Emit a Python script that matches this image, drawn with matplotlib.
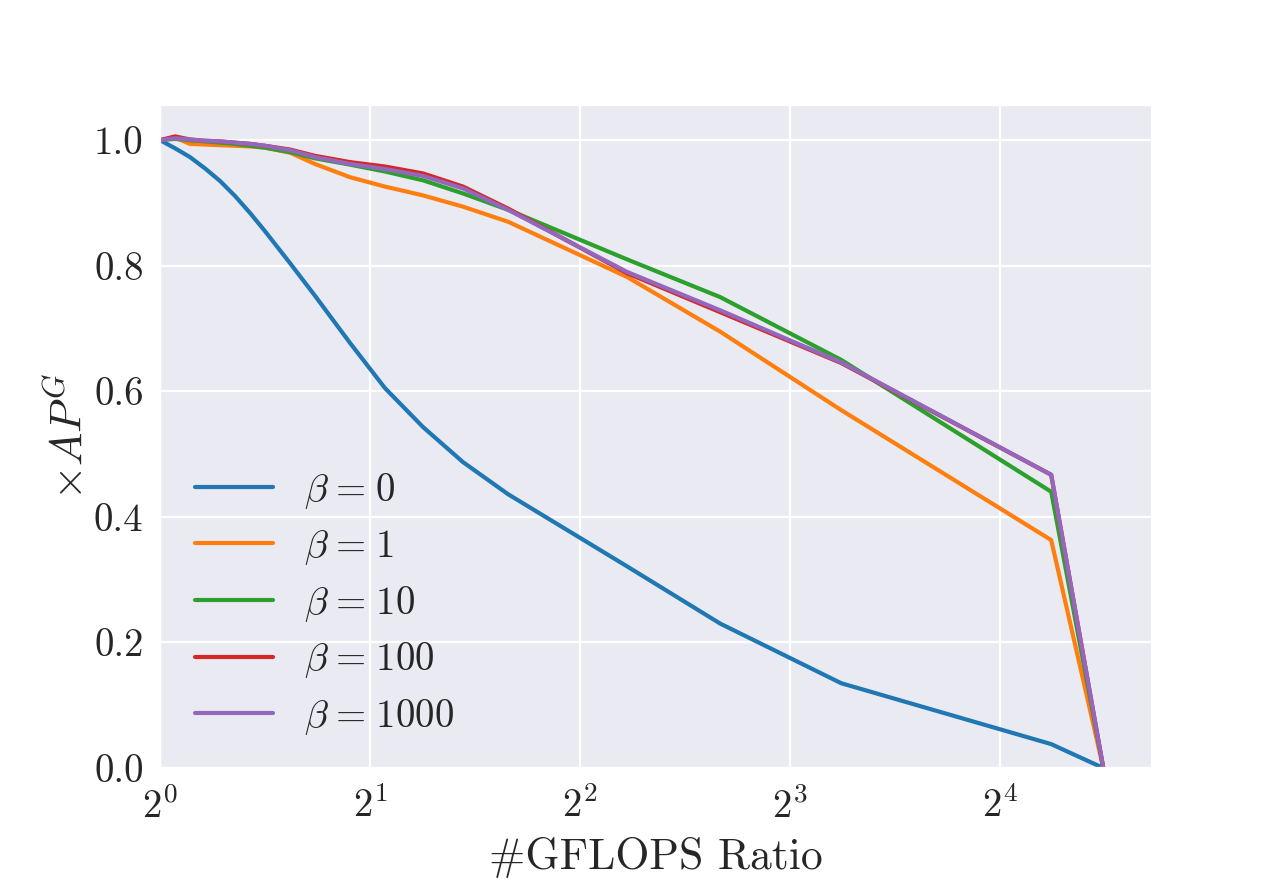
import math
import matplotlib
matplotlib.use("Agg")
import matplotlib.pyplot as plt
import seaborn as sns
from matplotlib.ticker import FixedLocator, FuncFormatter, NullLocator

# ---- data ----
gflops_ratio = [1.0, 1.051, 1.104, 1.160, 1.219, 1.281, 1.346, 1.414, 1.536, 1.668,
                1.872, 2.101, 2.382, 2.719, 3.154, 4.672, 6.350, 9.467, 18.93, 22.48]

beta_labels = [r"$\beta\hspace{0.09}=\hspace{0.09}0$",
               r"$\beta\hspace{0.09}=\hspace{0.09}1$",
               r"$\beta\hspace{0.09}=\hspace{0.09}10$",
               r"$\beta\hspace{0.09}=\hspace{0.09}100$",
               r"$\beta\hspace{0.09}=\hspace{0.09}1000$"]

ap_beta0 = [1.000, 0.987, 0.973, 0.955, 0.935, 0.911, 0.884, 0.855, 0.804, 0.752,
            0.677, 0.605, 0.543, 0.487, 0.436, 0.321, 0.230, 0.135, 0.038, 0.000]
ap_beta1 = [1.000, 1.004, 0.994, 0.993, 0.992, 0.991, 0.990, 0.988, 0.980, 0.962,
            0.941, 0.926, 0.912, 0.894, 0.870, 0.782, 0.695, 0.570, 0.363, 0.000]
ap_beta10 = [1.000, 1.002, 1.000, 0.998, 0.996, 0.994, 0.991, 0.988, 0.981, 0.971,
             0.961, 0.950, 0.936, 0.915, 0.889, 0.810, 0.750, 0.650, 0.440, 0.000]
ap_beta100 = [1.000, 1.006, 1.001, 0.999, 0.998, 0.996, 0.994, 0.991, 0.985, 0.975,
              0.965, 0.958, 0.947, 0.926, 0.891, 0.788, 0.726, 0.645, 0.467, 0.000]
ap_beta1000 = [1.000, 1.003, 1.001, 0.999, 0.998, 0.996, 0.994, 0.991, 0.984, 0.973,
               0.962, 0.954, 0.943, 0.923, 0.889, 0.790, 0.729, 0.646, 0.467, 0.000]

series = [ap_beta0, ap_beta1, ap_beta10, ap_beta100, ap_beta1000]

x_tick_exponents = [0, 1, 2, 3, 4]
y_ticks = [0.0, 0.2, 0.4, 0.6, 0.8, 1.0]

# ---- style ----
sns.set_style("darkgrid")
plt.rcParams["font.family"] = ["cmr10", "DejaVu Serif"]
plt.rcParams["mathtext.fontset"] = "cm"
plt.rcParams["axes.formatter.use_mathtext"] = True

fig = plt.figure(figsize=(6.4, 4.4), dpi=200)
ax = fig.add_axes([0.125, 0.1273, 0.775, 0.7534])

colors = plt.rcParams["axes.prop_cycle"].by_key()["color"]
for vals, lab, c in zip(series, beta_labels, colors):
    ax.plot(gflops_ratio, vals, label=lab, color=c, linewidth=1.5)

ax.set_xscale("log", base=2)
ax.set_xlim(1, 26.4)
ax.set_ylim(0, 1.056)

ax.xaxis.set_major_locator(FixedLocator([2.0 ** e for e in x_tick_exponents]))
ax.xaxis.set_minor_locator(NullLocator())
ax.xaxis.set_major_formatter(FuncFormatter(
    lambda v, p: r"$2^{%d}$" % round(math.log2(v))))
ax.yaxis.set_major_locator(FixedLocator(y_ticks))
ax.yaxis.set_major_formatter(FuncFormatter(lambda v, p: "%.1f" % v))

ax.tick_params(axis="both", labelsize=14)
ax.tick_params(axis="y", pad=2.4)
ax.set_xlabel("#GFLOPS Ratio", fontsize=15.7)
ax.set_ylabel(r"$\times AP^{G}$", fontsize=16, labelpad=1)

ax.legend(loc="lower left", fontsize=14, frameon=False, labelspacing=0.43,
          bbox_to_anchor=(0, -0.006))

fig.savefig("out.png", dpi=200)
